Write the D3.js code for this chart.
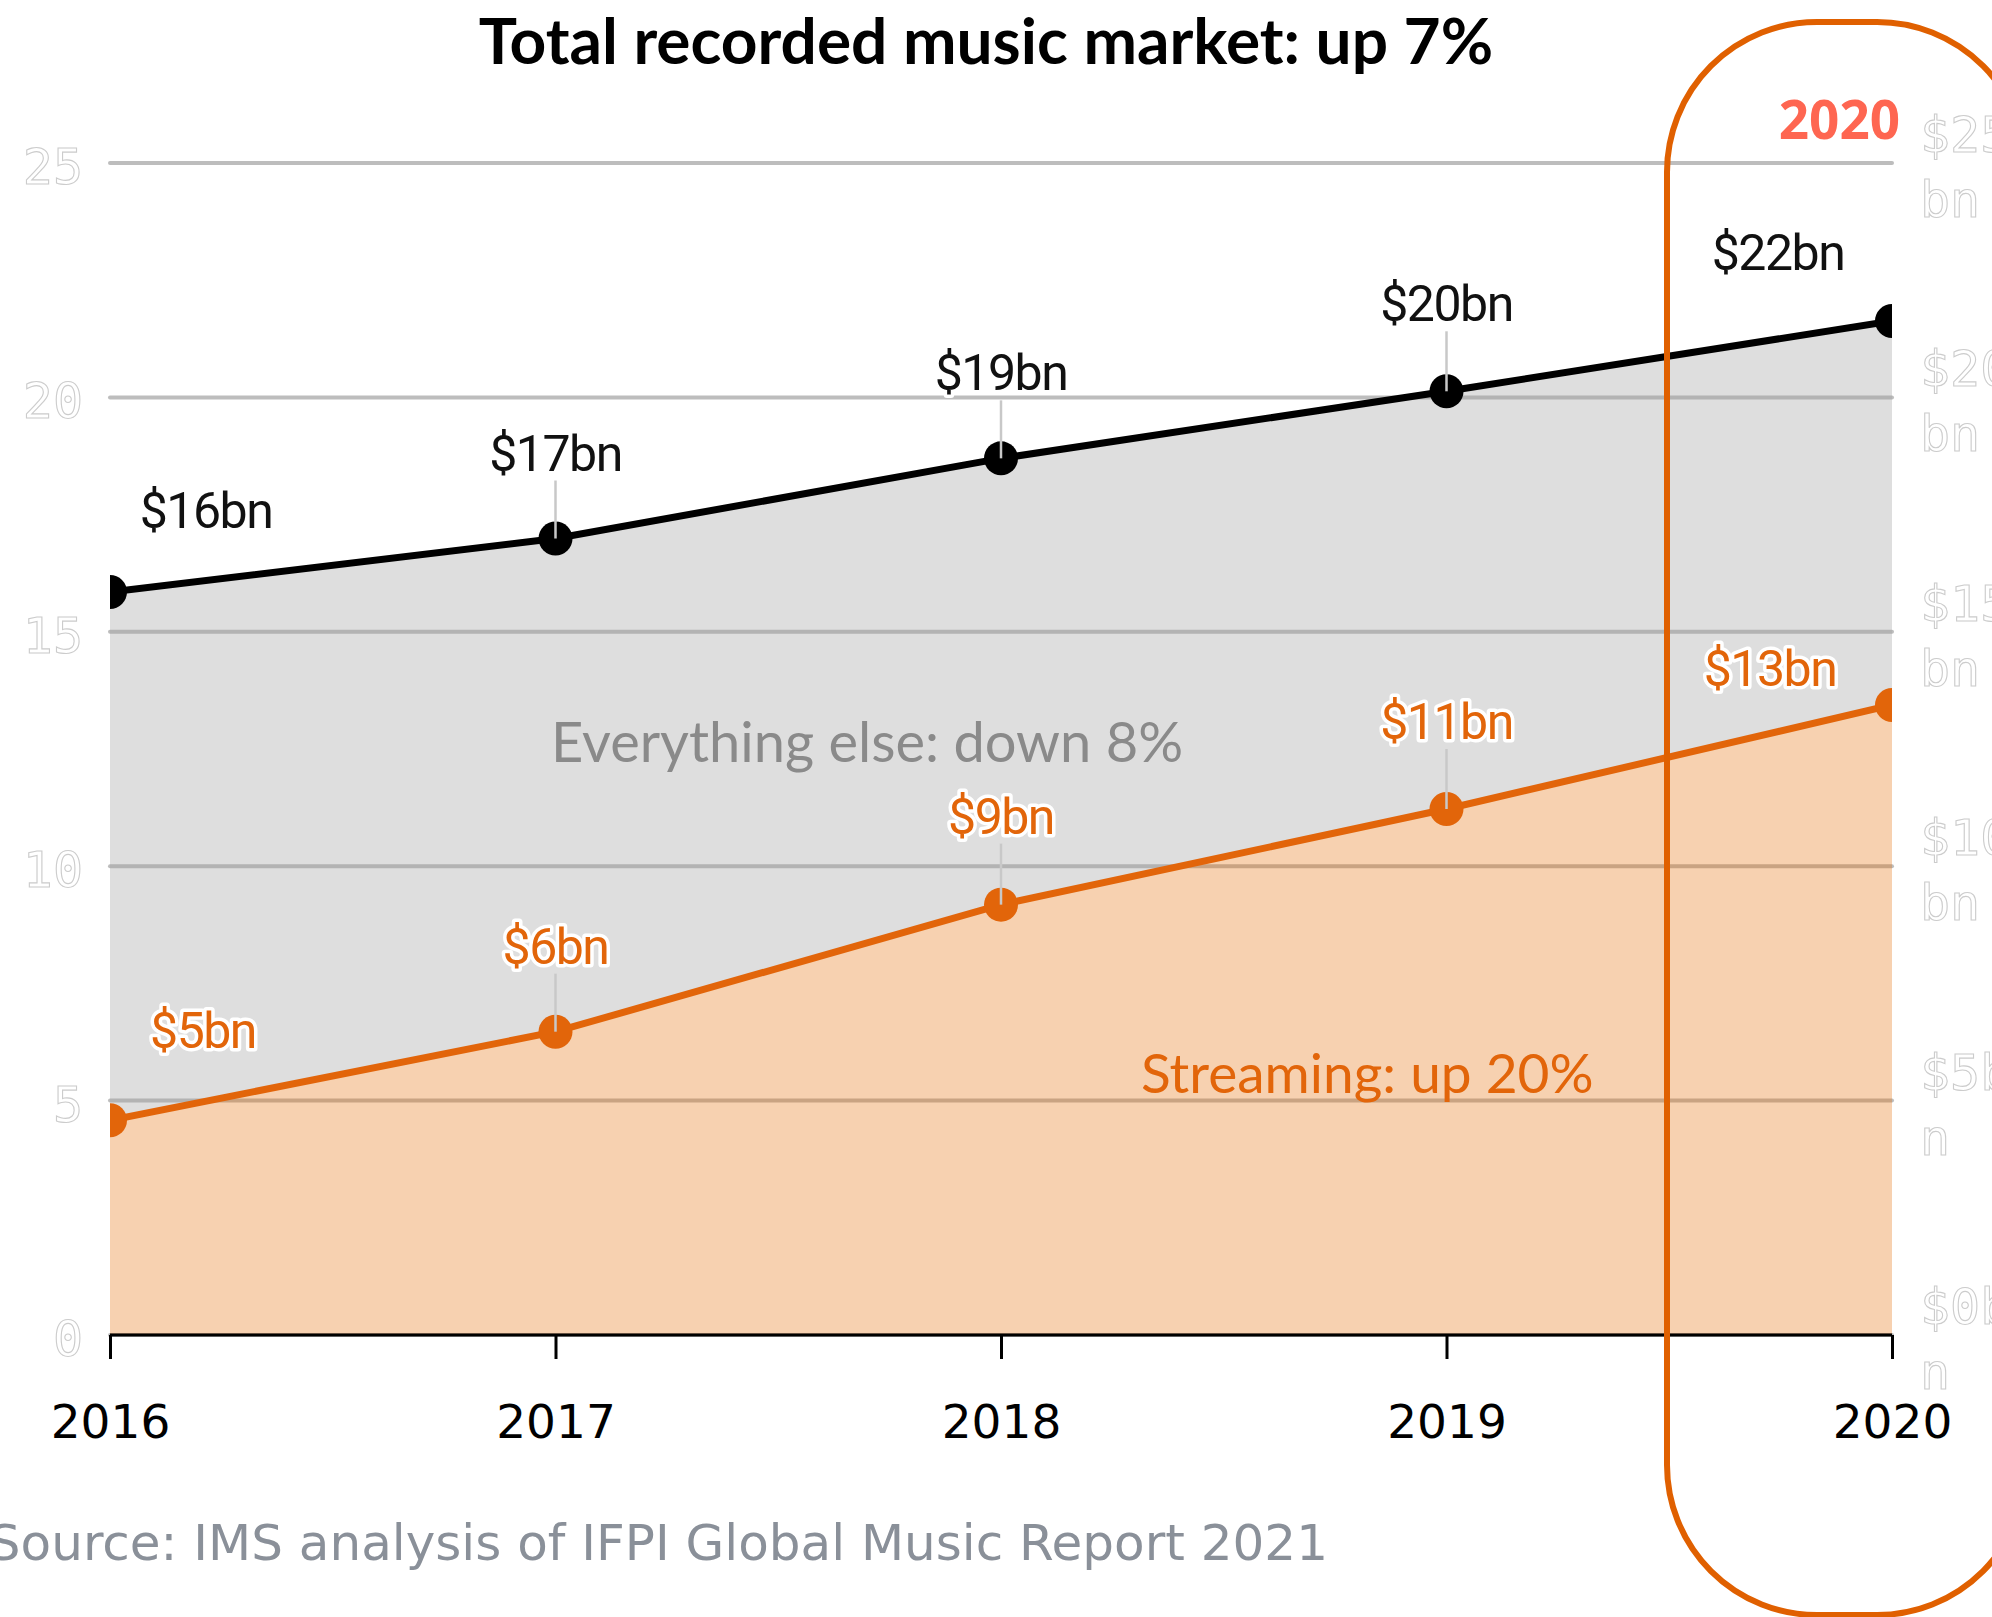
<!DOCTYPE html>
<html>
<head>
<meta charset="utf-8">
<script src="https://cdn.jsdelivr.net/npm/d3@7"></script>
<style>
	body { margin: 0; background: #fff; }
	svg { display: block; }
</style>
</head>
<body>
<div class="chart"></div>
<script>
// values ($bn)
const years = [2016, 2017, 2018, 2019, 2020];
const totalValues = [15.85, 16.99, 18.70, 20.13, 21.63];
const streamingValues = [4.58, 6.47, 9.18, 11.22, 13.44];
const totalLabels = ['$16bn', '$17bn', '$19bn', '$20bn', '$22bn'];
const streamingLabels = ['$5bn', '$6bn', '$9bn', '$11bn', '$13bn'];
const yTicks = [0, 5, 10, 15, 20, 25];

const W = 1992;
const H = 1617;
const margin = {l:110, r:100, t:163, b:282};
const orange = '#e2650a';

const svg = d3.select('.chart')
	.append('svg')
	.attr('width', W)
	.attr('height', H);

const scaleX = d3.scaleLinear()
	.domain(d3.extent(years))
	.range([margin.l, W - margin.r]);
const scaleY = d3.scaleLinear()
	.domain([0, 25])
	.range([H - margin.b, margin.t]);

svg.append('clipPath')
	.attr('id', 'plot-clip')
	.append('rect')
	.attr('x', margin.l)
	.attr('y', 0)
	.attr('width', W - margin.r - margin.l)
	.attr('height', H - margin.b);

//gridlines
svg.append('g')
	.selectAll('line')
	.data(yTicks)
	.join('line')
	.attr('x1', margin.l)
	.attr('x2', W - margin.r)
	.attr('y1', d => scaleY(d))
	.attr('y2', d => scaleY(d))
	.attr('stroke', '#bdbdbd')
	.attr('stroke-width', 4)
	.attr('stroke-linecap', 'round');

const plot = svg.append('g').attr('clip-path', 'url(#plot-clip)');

//areas: everything else between the two lines, streaming below
const rows = years.map((y, i) => ({year:y, total:totalValues[i], stream:streamingValues[i]}));
plot.append('path')
	.datum(rows)
	.attr('fill', '#a0a0a0')
	.attr('fill-opacity', 0.35)
	.attr('d', d3.area()
		.x(d => scaleX(d.year))
		.y0(d => scaleY(d.stream))
		.y1(d => scaleY(d.total)));
plot.append('path')
	.datum(rows)
	.attr('fill', '#e66a00')
	.attr('fill-opacity', 0.31)
	.attr('d', d3.area()
		.x(d => scaleX(d.year))
		.y0(scaleY(0))
		.y1(d => scaleY(d.stream)));

//x axis
const axisX = d3.axisBottom()
	.scale(scaleX)
	.tickValues(years)
	.tickFormat(d3.format('d'))
	.tickSize(24)
	.tickPadding(46);
const gx = svg.append('g')
	.attr('transform', `translate(0, ${scaleY(0)})`)
	.call(axisX);
gx.select('.domain')
	.attr('stroke', '#000')
	.attr('stroke-width', 3)
	.attr('d', `M${margin.l},0H${W - margin.r}`);
gx.selectAll('.tick line')
	.attr('stroke', '#000')
	.attr('stroke-width', 3);
gx.selectAll('.tick text')
	.attr('fill', '#000')
	.style('font-family', '"DejaVu Sans"')
	.style('font-size', '47px');

//left tick labels, outlined
svg.append('g')
	.selectAll('text')
	.data(yTicks)
	.join('text')
	.attr('x', 83)
	.attr('y', d => scaleY(d) + 21)
	.attr('text-anchor', 'end')
	.style('font-family', '"DejaVu Sans Mono"')
	.style('font-size', '50px')
	.attr('fill', '#fff')
	.attr('stroke', '#cccccc')
	.attr('stroke-width', 1.1)
	.text(d => d);

//right tick labels, wrapped every 3 characters and cut by the page edge
const right = svg.append('g')
	.selectAll('text')
	.data(yTicks)
	.join('text')
	.attr('y', d => scaleY(d) - 11)
	.style('font-family', '"DejaVu Sans Mono"')
	.style('font-size', '50px')
	.attr('fill', '#fff')
	.attr('stroke', '#cccccc')
	.attr('stroke-width', 1.1);
right.selectAll('tspan')
	.data(d => `$${d}bn`.match(/.{1,3}/g))
	.join('tspan')
	.attr('x', 1920)
	.attr('dy', (d, i) => i ? 65 : 0)
	.text(d => d);

//series: line, points, labels
const series = [
	{key:'total', values:totalValues, labels:totalLabels, color:'#000', labelColor:'#111',
		dx:[96, 0, 0, 0, -114], dy:[-64, -68, -68, -70, -51]},
	{key:'stream', values:streamingValues, labels:streamingLabels, color:orange, labelColor:orange,
		dx:[93, 0, 0, 0, -122], dy:[-72, -68, -71, -70, -19]}
];

//leader lines for the middle years
series.forEach(s => {
	svg.append('g')
		.selectAll('line')
		.data(s.values.slice(1, -1))
		.join('line')
		.attr('x1', (d, i) => scaleX(years[i + 1]))
		.attr('x2', (d, i) => scaleX(years[i + 1]))
		.attr('y1', (d, i) => scaleY(d) + s.dy[i + 1] + 10)
		.attr('y2', d => scaleY(d))
		.attr('stroke', '#c8c8c8')
		.attr('stroke-width', 2.5);
});

series.forEach(s => {
	plot.append('path')
		.datum(s.values)
		.attr('fill', 'none')
		.attr('stroke', s.color)
		.attr('stroke-width', 7)
		.attr('d', d3.line()
			.x((d, i) => scaleX(years[i]))
			.y(d => scaleY(d)));
	plot.append('g')
		.selectAll('circle')
		.data(s.values)
		.join('circle')
		.attr('cx', (d, i) => scaleX(years[i]))
		.attr('cy', d => scaleY(d))
		.attr('r', 17)
		.attr('fill', s.color);
	svg.append('g')
		.selectAll('text')
		.data(s.values)
		.join('text')
		.attr('x', (d, i) => scaleX(years[i]) + s.dx[i])
		.attr('y', (d, i) => scaleY(d) + s.dy[i])
		.attr('text-anchor', 'middle')
		.style('font-family', 'Roboto')
		.style('font-size', '50px')
		.style('letter-spacing', '-1.5px')
		.attr('fill', s.labelColor)
		.attr('stroke', '#fff')
		.attr('stroke-width', 7)
		.attr('stroke-linejoin', 'round')
		.style('paint-order', 'stroke')
		.text((d, i) => s.labels[i]);
});

//annotations
svg.append('text')
	.attr('x', 551)
	.attr('y', 762)
	.style('font-family', 'Lato')
	.style('font-size', '56px')
	.attr('fill', '#8a8a8a')
	.text('Everything else: down 8%');
svg.append('text')
	.attr('x', 1141)
	.attr('y', 1093)
	.style('font-family', 'Lato')
	.style('font-size', '55px')
	.attr('fill', orange)
	.text('Streaming: up 20%');

//title
svg.append('text')
	.attr('x', 986)
	.attr('y', 64)
	.attr('text-anchor', 'middle')
	.style('font-family', 'Lato')
	.style('font-weight', 'bold')
	.style('font-size', '64px')
	.attr('fill', '#000')
	.text('Total recorded music market: up 7%');

//source
svg.append('text')
	.attr('x', 1328)
	.attr('y', 1560)
	.attr('text-anchor', 'end')
	.style('font-family', '"DejaVu Sans"')
	.style('font-size', '50px')
	.attr('fill', '#8a9099')
	.text('Source: IMS analysis of IFPI Global Music Report 2021');

//2020 highlight
svg.append('text')
	.attr('x', 1900)
	.attr('y', 139)
	.attr('text-anchor', 'end')
	.style('font-family', '"Open Sans"')
	.style('font-weight', 'bold')
	.style('font-size', '53px')
	.attr('fill', '#fe6651')
	.text('2020');
svg.append('rect')
	.attr('x', 1667)
	.attr('y', 22)
	.attr('width', 360)
	.attr('height', 1593)
	.attr('rx', 150)
	.attr('fill', 'none')
	.attr('stroke', '#e06000')
	.attr('stroke-width', 6);
</script>
</body>
</html>
